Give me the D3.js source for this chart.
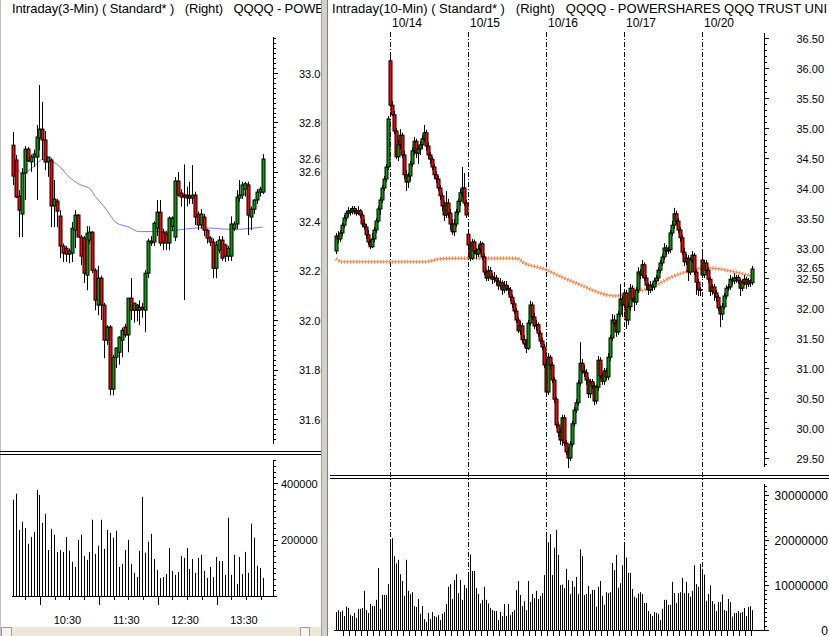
<!DOCTYPE html>
<html><head><meta charset="utf-8">
<script src="https://cdn.jsdelivr.net/npm/d3@7"></script>
<style>
body{margin:0;background:#fff;}
svg{display:block;font-family:"Liberation Sans",Arial,sans-serif;}
text{white-space:pre;}
</style></head><body>
<svg id="c" width="829" height="636"></svg>
<script>
// ---------------- LEFT PANEL DATA (3-min, today) ----------------
const leftOHLC = [
[32.708,32.761,32.547,32.583],[32.648,32.668,32.494,32.498],[32.502,32.526,32.336,32.445],[32.429,32.615,32.336,32.595],
[32.595,32.704,32.486,32.692],[32.692,32.700,32.640,32.644],[32.640,32.670,32.600,32.660],[32.660,32.690,32.620,32.672],
[32.660,32.790,32.486,32.741],[32.737,32.951,32.688,32.773],[32.773,32.883,32.648,32.729],[32.729,32.765,32.607,32.640],
[32.640,32.660,32.580,32.660],[32.648,32.655,32.376,32.462],[32.462,32.567,32.376,32.490],[32.482,32.490,32.376,32.441],
[32.421,32.445,32.251,32.300],[32.300,32.310,32.235,32.271],[32.291,32.300,32.235,32.267],[32.267,32.290,32.230,32.280],
[32.271,32.397,32.235,32.372],[32.364,32.445,32.291,32.425],[32.425,32.430,32.340,32.336],[32.336,32.345,32.223,32.259],
[32.332,32.340,32.150,32.190],[32.182,32.380,32.121,32.352],[32.324,32.380,32.310,32.356],[32.356,32.360,32.190,32.202],
[32.202,32.210,32.040,32.081],[32.061,32.220,32.020,32.170],[32.170,32.180,32.000,32.061],[32.061,32.070,31.846,31.919],
[31.919,31.980,31.900,31.972],[31.972,31.980,31.696,31.721],[31.721,31.860,31.696,31.850],[31.850,31.890,31.806,31.887],
[31.870,31.935,31.820,31.931],[31.919,31.970,31.850,31.959],[31.972,31.985,31.930,31.940],[31.940,32.090,31.870,32.089],
[32.089,32.170,32.000,32.040],[32.040,32.070,31.990,32.069],[32.061,32.065,31.995,32.040],[32.040,32.080,31.980,32.052],
[32.052,32.070,32.010,32.044],[32.040,32.202,31.951,32.190],[32.190,32.330,32.170,32.320],[32.320,32.340,32.300,32.312],
[32.316,32.400,32.300,32.392],[32.372,32.486,32.340,32.437],[32.437,32.486,32.300,32.312],[32.356,32.370,32.283,32.312],
[32.352,32.360,32.283,32.312],[32.312,32.420,32.283,32.413],[32.380,32.420,32.360,32.413],[32.336,32.579,32.320,32.563],
[32.563,32.599,32.500,32.506],[32.514,32.530,32.460,32.498],[32.506,32.630,32.081,32.498],[32.506,32.540,32.460,32.494],
[32.494,32.560,32.470,32.502],[32.494,32.627,32.470,32.506],[32.506,32.520,32.385,32.417],[32.429,32.440,32.364,32.385],
[32.385,32.450,32.370,32.429],[32.417,32.430,32.340,32.364],[32.364,32.370,32.310,32.332],[32.332,32.340,32.300,32.316],
[32.316,32.330,32.170,32.210],[32.210,32.320,32.170,32.304],[32.283,32.340,32.270,32.324],[32.324,32.340,32.240,32.251],
[32.304,32.310,32.235,32.259],[32.259,32.300,32.240,32.290],[32.259,32.420,32.240,32.389],[32.370,32.400,32.360,32.389],
[32.389,32.526,32.370,32.498],[32.494,32.567,32.480,32.506],[32.506,32.560,32.490,32.547],[32.530,32.560,32.500,32.552],
[32.547,32.560,32.344,32.425],[32.417,32.460,32.364,32.449],[32.449,32.490,32.430,32.486],[32.486,32.530,32.470,32.518],
[32.518,32.540,32.500,32.530],[32.518,32.672,32.510,32.652]
];
const leftVolumeK = [
341,362,234,263,241,185,209,227,376,358,
259,291,163,238,217,156,163,156,209,160,
121,103,199,217,142,128,156,270,149,178,
270,167,234,224,206,231,103,114,163,199,
114,82,67,160,351,153,192,220,131,92,
64,67,78,170,89,75,85,142,135,170,
96,131,82,135,146,89,64,103,67,138,
124,124,75,277,75,146,43,138,78,156,
82,256,206,107,99,64
];
const leftMAIndex = [0,3,7,10,12,16,19,23,26,28,31,33,35,39,43,52,59,64,75,85];
const leftMAValue = [32.650,32.594,32.620,32.650,32.648,32.620,32.580,32.547,32.533,32.500,32.459,32.425,32.395,32.378,32.358,32.360,32.369,32.374,32.367,32.377];
const leftPriceTicks = [33.00,32.80,32.60,32.40,32.20,32.00,31.80,31.60];
const leftLastPrice = 32.65;
const leftVolTicks = [400000,200000];
const leftTimeLabels = ["10:30","11:30","12:30","13:30"];
const leftTitle = "Intraday(3-Min) ( Standard* )   (Right)   QQQQ - POWE";

// ---------------- RIGHT PANEL DATA (10-min, 5 days) ----------------
const rightOHLC = [
[32.95,33.25,32.90,33.20],[33.20,33.28,33.08,33.15],[33.15,33.30,33.10,33.25],[33.25,33.42,33.20,33.38],[33.38,33.55,33.33,33.50],
[33.50,33.62,33.45,33.58],[33.58,33.68,33.52,33.62],[33.62,33.66,33.54,33.60],[33.60,33.70,33.56,33.66],[33.66,33.70,33.56,33.62],
[33.62,33.66,33.54,33.58],[33.58,33.70,33.55,33.62],[33.62,33.65,33.50,33.55],[33.55,33.60,33.35,33.40],[33.40,33.48,33.30,33.35],
[33.35,33.40,33.15,33.22],[33.22,33.30,33.05,33.10],[33.10,33.14,32.98,33.02],[33.02,33.25,33.00,33.15],[33.15,33.35,33.10,33.30],
[33.30,33.50,33.25,33.45],[33.45,33.70,33.42,33.65],[33.65,33.85,33.55,33.80],[33.80,34.05,33.75,34.00],[34.00,34.20,33.95,34.15],
[34.15,34.40,34.10,34.35],[34.35,35.20,34.30,35.15],
[36.12,36.18,35.35,35.38],[35.38,35.45,35.20,35.22],[35.22,35.28,34.90,34.95],[34.95,35.00,34.48,34.52],[34.52,34.80,34.45,34.72],
[34.72,34.98,34.65,34.88],[34.88,34.92,34.50,34.55],[34.55,34.62,34.15,34.22],[34.22,34.30,33.95,34.10],[34.10,34.25,34.00,34.20],
[34.20,34.45,34.12,34.40],[34.40,34.68,34.35,34.62],[34.62,34.85,34.55,34.78],[34.78,34.82,34.50,34.58],[34.58,34.70,34.40,34.65],
[34.65,34.78,34.55,34.72],[34.72,34.88,34.65,34.82],[34.82,35.05,34.78,34.92],[34.92,34.97,34.62,34.70],[34.70,34.76,34.48,34.55],
[34.55,34.60,34.40,34.48],[34.48,34.52,34.30,34.35],[34.35,34.40,34.15,34.22],[34.22,34.28,34.08,34.15],[34.15,34.20,33.95,34.00],
[34.00,34.05,33.80,33.87],[33.87,33.92,33.62,33.70],[33.70,33.78,33.45,33.55],[33.55,33.95,33.50,33.75],[33.75,33.82,33.50,33.58],
[33.58,33.65,33.30,33.40],[33.40,33.48,33.22,33.27],[33.27,33.48,33.20,33.40],[33.40,33.65,33.35,33.60],[33.60,33.82,33.55,33.78],
[33.78,33.98,33.70,33.92],[33.92,34.35,33.85,34.00],[34.00,34.25,33.70,33.75],[33.75,33.80,33.50,33.55],
[33.23,33.30,32.95,33.05],[33.05,33.10,32.78,32.83],[32.83,33.15,32.80,33.10],[33.10,33.14,32.90,32.95],[32.95,33.00,32.82,32.90],
[32.90,33.05,32.85,32.98],[32.98,33.12,32.92,33.07],[33.07,33.10,32.80,32.85],[32.85,32.90,32.55,32.60],[32.60,32.65,32.45,32.50],
[32.50,32.70,32.45,32.62],[32.62,32.68,32.48,32.52],[32.52,32.58,32.40,32.48],[32.48,32.60,32.42,32.50],[32.50,32.55,32.38,32.45],
[32.45,32.50,32.30,32.37],[32.37,32.50,32.32,32.42],[32.42,32.46,32.22,32.30],[32.30,32.45,32.25,32.38],[32.38,32.45,32.28,32.33],
[32.33,32.38,32.22,32.30],[32.30,32.35,32.12,32.18],[32.18,32.22,32.00,32.07],[32.07,32.12,31.90,31.95],[31.95,32.00,31.75,31.80],
[31.80,31.85,31.58,31.62],[31.62,31.78,31.55,31.70],[31.70,31.75,31.42,31.47],[31.47,31.55,31.35,31.40],[31.40,31.48,31.25,31.33],
[31.33,31.80,31.30,31.75],[31.75,32.12,31.70,32.05],[32.05,32.10,31.80,31.85],[31.85,31.92,31.65,31.70],[31.70,31.80,31.62,31.72],
[31.72,31.76,31.52,31.58],[31.58,31.62,31.40,31.45],[31.45,31.50,31.30,31.35],[31.35,31.40,31.00,31.05],
[31.05,31.15,30.55,30.60],[30.60,31.25,30.55,31.18],[31.18,31.22,30.98,31.05],[31.05,31.10,30.75,30.80],[30.80,30.85,30.42,30.48],
[30.48,30.52,30.00,30.05],[30.05,30.10,29.85,29.93],[29.93,30.00,29.72,29.80],[29.80,30.22,29.70,30.17],[30.17,30.22,29.70,29.75],
[29.75,29.80,29.55,29.60],[29.60,29.68,29.33,29.50],[29.50,29.78,29.45,29.73],[29.73,30.12,29.68,30.07],[30.07,30.35,30.02,30.30],
[30.30,30.48,30.25,30.42],[30.42,30.80,30.38,30.75],[30.75,31.43,30.70,31.08],[31.08,31.15,30.90,30.95],[30.95,31.05,30.85,30.92],
[30.92,30.98,30.72,30.80],[30.80,30.85,30.50,30.57],[30.57,30.82,30.50,30.77],[30.77,30.82,30.65,30.70],[30.70,30.75,30.38,30.45],
[30.45,30.72,30.40,30.68],[30.68,31.20,30.62,31.13],[31.13,31.18,30.82,30.87],[30.87,30.92,30.72,30.78],[30.78,31.00,30.72,30.95],
[30.95,31.00,30.80,30.85],[30.85,31.25,30.80,31.18],[31.18,31.55,31.12,31.50],[31.50,31.90,31.45,31.80],[31.80,31.88,31.70,31.75],
[31.75,31.80,31.52,31.60],[31.60,31.95,31.55,31.90],[31.90,32.40,31.85,32.15],[32.15,32.20,31.85,32.05],
[32.05,32.32,32.00,32.25],[32.25,32.30,31.65,31.80],[31.80,32.08,31.72,32.02],[32.02,32.40,31.95,32.33],[32.33,32.38,32.10,32.15],
[32.15,32.20,31.95,32.10],[32.10,32.35,32.05,32.30],[32.30,32.68,32.25,32.60],[32.60,32.65,32.48,32.55],[32.55,32.80,32.50,32.72],
[32.72,32.76,32.45,32.50],[32.50,32.55,32.30,32.38],[32.38,32.42,32.22,32.30],[32.30,32.45,32.25,32.38],[32.38,32.42,32.28,32.35],
[32.35,32.50,32.30,32.45],[32.45,32.55,32.40,32.50],[32.50,32.68,32.45,32.63],[32.63,32.80,32.58,32.75],[32.75,32.90,32.70,32.85],
[32.85,33.08,32.80,33.00],[33.00,33.05,32.88,32.95],[32.95,33.02,32.90,32.97],[32.97,33.30,32.92,33.25],[33.25,33.45,33.20,33.38],
[33.38,33.67,33.32,33.57],[33.57,33.62,33.40,33.45],[33.45,33.50,33.25,33.30],[33.30,33.35,33.10,33.17],[33.17,33.22,32.88,32.93],
[32.93,33.00,32.70,32.77],[32.77,32.90,32.72,32.83],[32.83,32.88,32.45,32.60],[32.60,32.85,32.55,32.80],[32.80,32.95,32.75,32.88],
[32.88,32.92,32.55,32.60],[32.60,32.65,32.22,32.43],[32.43,32.48,32.20,32.30],[32.30,32.35,32.20,32.31],
[32.80,32.97,32.50,32.55],[32.55,32.80,32.50,32.75],[32.75,32.80,32.58,32.63],[32.63,32.68,32.42,32.48],[32.48,32.52,32.20,32.28],
[32.28,32.40,32.22,32.35],[32.35,32.40,32.12,32.25],[32.25,32.30,32.10,32.18],[32.18,32.22,31.95,32.00],[32.00,32.05,31.68,31.90],
[31.90,32.08,31.80,32.02],[32.02,32.25,31.98,32.20],[32.20,32.38,32.15,32.33],[32.33,32.40,32.28,32.35],[32.35,32.55,32.30,32.48],
[32.48,32.52,32.38,32.45],[32.45,32.58,32.40,32.50],[32.50,32.55,32.42,32.51],[32.51,32.55,32.40,32.45],[32.45,32.48,32.20,32.33],
[32.33,32.48,32.28,32.42],[32.42,32.55,32.38,32.48],[32.48,32.52,32.32,32.40],[32.40,32.50,32.35,32.45],[32.45,32.48,32.35,32.42],
[32.42,32.70,32.38,32.65]
];
const rightVolumeM = [
4.0,4.4,4.0,4.3,3.1,5.2,4.9,3.3,3.1,3.8,2.7,4.7,4.7,4.9,8.7,4.4,3.8,5.8,5.3,5.3,6.7,13.8,4.7,7.8,7.8,7.8,10.2,
20.0,20.4,16.4,14.8,15.6,12.4,10.9,7.6,15.6,8.7,8.0,8.4,5.3,5.1,6.9,3.6,5.3,2.4,1.8,3.8,2.4,4.0,3.1,2.9,3.3,2.2,3.6,4.0,5.8,9.6,10.2,6.9,11.1,12.4,8.2,11.1,6.7,10.0,9.3,
11.9,16.8,13.1,13.1,9.3,8.0,5.9,6.7,9.6,6.7,5.9,4.9,4.4,4.2,4.2,2.2,4.0,3.1,5.8,3.1,5.8,3.3,4.0,4.4,8.9,10.9,7.8,5.3,6.4,4.4,10.9,6.2,8.0,7.1,8.7,6.9,7.6,8.2,12.2,
20.6,19.5,21.3,12.2,18.3,22.2,16.7,10.0,10.1,9.3,13.6,11.1,8.0,10.9,9.6,11.8,8.0,17.9,16.4,7.8,8.0,9.8,8.0,8.9,8.9,5.2,9.6,10.9,7.6,5.6,8.4,8.2,8.4,14.9,13.3,16.7,9.4,10.4,14.4,
19.0,16.1,12.7,12.7,9.1,7.4,7.1,8.1,8.4,8.0,6.0,6.0,4.2,3.6,3.1,4.0,3.8,3.6,2.2,4.7,6.7,6.7,5.6,5.6,10.7,8.2,6.0,8.2,8.4,11.6,8.2,10.7,8.2,7.4,8.7,14.4,10.2,9.6,14.7,
13.6,12.3,6.5,8.0,9.9,6.4,5.8,4.2,6.2,6.2,7.9,4.4,4.2,6.9,6.2,3.0,3.8,3.8,4.2,3.8,4.0,4.9,3.1,5.1,5.3,4.4
];
const rightMAIndex = [0,3,45,52,62,90,94,104,114,124,132,140,148,158,168,178,185,192,202,208];
const rightMAValue = [32.82,32.77,32.77,32.82,32.83,32.83,32.75,32.65,32.50,32.36,32.25,32.20,32.25,32.35,32.52,32.63,32.67,32.65,32.58,32.53];
const rightPriceTicks = [36.5,36.0,35.5,35.0,34.5,34.0,33.5,33.0,32.5,32.0,31.5,31.0,30.5,30.0,29.5];
const rightLastPrice = 32.65;
const rightVolTicks = [30000000,20000000,10000000,0];
const dayLabels = ["10/14","10/15","10/16","10/17","10/20"];
const dayStartIndex = [27,66,105,144,183];
const rightTitle = "Intraday(10-Min) ( Standard* )   (Right)   QQQQ - POWERSHARES QQQ TRUST UNI";

// ---------------- DRAW ----------------
const svg = d3.select('#c');
const GREEN = '#00a000', RED = '#ff0000';
const FONT = 12;

const defs = svg.append('defs');
defs.append('clipPath').attr('id','clipL').append('rect').attr('x',0).attr('y',0).attr('width',321).attr('height',636);
defs.append('clipPath').attr('id','clipR').append('rect').attr('x',330).attr('y',0).attr('width',499).attr('height',636);

// window chrome
svg.append('rect').attr('x',0).attr('y',0).attr('width',829).attr('height',636).attr('fill','#fff');
svg.append('rect').attr('x',321).attr('y',0).attr('width',7).attr('height',636).attr('fill','#d4d0c8');
svg.append('line').attr('x1',321.5).attr('x2',321.5).attr('y1',0).attr('y2',636).attr('stroke','#a0a0a0');
svg.append('line').attr('x1',327.5).attr('x2',327.5).attr('y1',0).attr('y2',636).attr('stroke','#808080');
svg.append('line').attr('x1',0.5).attr('x2',0.5).attr('y1',0).attr('y2',636).attr('stroke','#c0c0c0');
// left bottom scrollbar
svg.append('rect').attr('x',1).attr('y',627).attr('width',320).attr('height',9).attr('fill','#ece9d8');
svg.append('rect').attr('x',1.5).attr('y',627.5).attr('width',10).attr('height',9).attr('fill','#f4f3ee').attr('stroke','#9d9d9d');
svg.append('rect').attr('x',300.5).attr('y',627.5).attr('width',9).attr('height',9).attr('fill','#f4f3ee').attr('stroke','#9d9d9d');

// ===== LEFT PANEL =====
const L = svg.append('g').attr('clip-path','url(#clipL)');
const xL = d3.scaleLinear().domain([0,85]).range([13,263]);
const yL = d3.scaleLinear().domain([31.6,33.0]).range([419,73]);
const yLV = d3.scaleLinear().domain([0,400000]).range([596,483]);

L.append('text').attr('x',12).attr('y',13).attr('font-size',13).attr('fill','#000')
 .attr('textLength',312).attr('lengthAdjust','spacing').text(leftTitle);

// price axis
const lAxis = L.append('g');
lAxis.append('line').attr('x1',273.5).attr('x2',273.5).attr('y1',37).attr('y2',444).attr('stroke','#000');
const lMinor = d3.range(0,82).map(k=>31.52+k*0.02).filter(v=>yL(v)>=37&&yL(v)<=444);
lAxis.selectAll('.lmin').data(lMinor).join('line').attr('x1',273).attr('x2',276)
 .attr('y1',d=>Math.round(yL(d))+0.5).attr('y2',d=>Math.round(yL(d))+0.5).attr('stroke','#000');
lAxis.selectAll('.lmaj').data(leftPriceTicks).join('line').attr('x1',273).attr('x2',278)
 .attr('y1',d=>Math.round(yL(d))+0.5).attr('y2',d=>Math.round(yL(d))+0.5).attr('stroke','#000');
lAxis.selectAll('.llab').data(leftPriceTicks).join('text').attr('x',299).attr('y',d=>yL(d)+4.5)
 .attr('font-size',FONT-1).text(d=>d.toFixed(2));
lAxis.append('rect').attr('x',298).attr('y',yL(leftLastPrice)-6).attr('width',30).attr('height',10).attr('fill','#fff');
lAxis.append('text').attr('x',299).attr('y',yL(leftLastPrice)+3).attr('font-size',FONT-1).text(leftLastPrice.toFixed(2));

// MA
const maLine = d3.line().x(d=>xL(d[0])).y(d=>yL(d[1])).curve(d3.curveMonotoneX);
L.append('path').attr('d',maLine(leftMAIndex.map((v,i)=>[v,leftMAValue[i]]))).attr('fill','none').attr('stroke','#7878ff').attr('stroke-width',1);

// candles
const lc = L.append('g').selectAll('g').data(leftOHLC).join('g');
lc.append('line').attr('x1',(d,i)=>Math.round(xL(i))+0.5).attr('x2',(d,i)=>Math.round(xL(i))+0.5)
 .attr('y1',d=>yL(d[1])).attr('y2',d=>yL(d[2])).attr('stroke','#000');
lc.append('rect').attr('x',(d,i)=>Math.round(xL(i))-1).attr('y',d=>yL(Math.max(d[0],d[3])))
 .attr('width',3).attr('height',d=>Math.max(1,yL(Math.min(d[0],d[3]))-yL(Math.max(d[0],d[3]))))
 .attr('fill',d=>d[3]>=d[0]?GREEN:RED).attr('stroke','#000').attr('stroke-width',1);

// separator
L.append('line').attr('x1',0).attr('x2',321).attr('y1',451.5).attr('y2',451.5).attr('stroke','#000');
L.append('line').attr('x1',0).attr('x2',321).attr('y1',454.5).attr('y2',454.5).attr('stroke','#000');

// volume
L.selectAll('.lv').data(leftVolumeK).join('line')
 .attr('x1',(d,i)=>Math.round(xL(i))+0.5).attr('x2',(d,i)=>Math.round(xL(i))+0.5)
 .attr('y1',596).attr('y2',d=>yLV(d*1000)).attr('stroke','#000');
L.append('line').attr('x1',12).attr('x2',277).attr('y1',596.5).attr('y2',596.5).attr('stroke','#000');
L.append('line').attr('x1',273.5).attr('x2',273.5).attr('y1',460).attr('y2',596).attr('stroke','#000');
const lvMinor = d3.range(0,25).map(k=>k*20000).filter(v=>yLV(v)>=460);
L.selectAll('.lvm').data(lvMinor).join('line').attr('x1',273).attr('x2',276)
 .attr('y1',d=>Math.round(yLV(d))+0.5).attr('y2',d=>Math.round(yLV(d))+0.5).attr('stroke','#000');
L.selectAll('.lvM').data(leftVolTicks).join('line').attr('x1',273).attr('x2',278)
 .attr('y1',d=>Math.round(yLV(d))+0.5).attr('y2',d=>Math.round(yLV(d))+0.5).attr('stroke','#000');
L.selectAll('.lvl').data(leftVolTicks).join('text').attr('x',281).attr('y',d=>yLV(d)+4.5)
 .attr('font-size',FONT-1).text(d=>d);

// time ticks
const tIdx = d3.range(0,17).map(k=>4.2+5*k).filter(v=>xL(v)<=265);
L.selectAll('.tt').data(tIdx).join('line')
 .attr('x1',d=>Math.round(xL(d))+0.5).attr('x2',d=>Math.round(xL(d))+0.5)
 .attr('y1',596).attr('y2',(d,k)=>k%4===1?605:600).attr('stroke','#000');
L.selectAll('.tl').data(leftTimeLabels).join('text')
 .attr('x',(d,k)=>xL(19.2+20*k)-2).attr('y',624).attr('text-anchor','middle').attr('font-size',FONT-1).text(d=>d);

// ===== RIGHT PANEL =====
const R = svg.append('g').attr('clip-path','url(#clipR)');
const xR = d3.scaleLinear().domain([0,208]).range([336,752]);
const yR = d3.scaleLinear().domain([29.5,36.5]).range([458,38]);
const yRV = d3.scaleLinear().domain([0,30000000]).range([630,495]);

R.append('text').attr('x',332).attr('y',13).attr('font-size',13).attr('fill','#000')
 .attr('textLength',495).attr('lengthAdjust','spacing').text(rightTitle);

// day separators
R.selectAll('.sep').data(dayStartIndex).join('line')
 .attr('x1',d=>Math.round(xR(d))+0.5).attr('x2',d=>Math.round(xR(d))+0.5)
 .attr('y1',32).attr('y2',630).attr('stroke','#000').attr('stroke-dasharray','5,2,1,2');
R.selectAll('.dl').data(dayLabels).join('text')
 .attr('x',(d,k)=>xR(dayStartIndex[k])+2).attr('y',27).attr('font-size',FONT).text(d=>d);

// price axis
R.append('line').attr('x1',764.5).attr('x2',764.5).attr('y1',33).attr('y2',467).attr('stroke','#000');
const rMinor = d3.range(0,75).map(k=>29.4+k*0.1).filter(v=>yR(v)>=33&&yR(v)<=467);
R.selectAll('.rmin').data(rMinor).join('line').attr('x1',764).attr('x2',767)
 .attr('y1',d=>Math.round(yR(d))+0.5).attr('y2',d=>Math.round(yR(d))+0.5).attr('stroke','#000');
R.selectAll('.rmaj').data(rightPriceTicks).join('line').attr('x1',764).attr('x2',769)
 .attr('y1',d=>Math.round(yR(d))+0.5).attr('y2',d=>Math.round(yR(d))+0.5).attr('stroke','#000');
R.selectAll('.rlab').data(rightPriceTicks).join('text').attr('x',824).attr('y',d=>yR(d)+4.5)
 .attr('text-anchor','end').attr('font-size',FONT-1).text(d=>d.toFixed(2));
R.append('rect').attr('x',790).attr('y',yR(rightLastPrice)-6).attr('width',36).attr('height',9).attr('fill','#fff');
R.append('text').attr('x',824).attr('y',yR(rightLastPrice)+3).attr('text-anchor','end').attr('font-size',FONT-1).text(rightLastPrice.toFixed(2));

// MA (orange, plus-marked)
const maR = d3.line().x(d=>xR(d[0])).y(d=>yR(d[1])).curve(d3.curveMonotoneX);
const maRd = maR(rightMAIndex.map((v,i)=>[v,rightMAValue[i]]));
R.append('path').attr('d',maRd).attr('fill','none').attr('stroke','#ff8040').attr('stroke-width',1);
R.append('path').attr('d',maRd).attr('fill','none').attr('stroke','#ff8040').attr('stroke-width',4).attr('stroke-dasharray','1,2');

// candles
const rc = R.append('g').selectAll('g').data(rightOHLC).join('g');
rc.append('line').attr('x1',(d,i)=>Math.round(xR(i))+0.5).attr('x2',(d,i)=>Math.round(xR(i))+0.5)
 .attr('y1',d=>yR(d[1])).attr('y2',d=>yR(d[2])).attr('stroke','#000');
rc.append('rect').attr('x',(d,i)=>Math.round(xR(i))-1).attr('y',d=>yR(Math.max(d[0],d[3])))
 .attr('width',3).attr('height',d=>Math.max(1,yR(Math.min(d[0],d[3]))-yR(Math.max(d[0],d[3]))))
 .attr('fill',d=>d[3]>=d[0]?GREEN:RED).attr('stroke','#000').attr('stroke-width',1);

// separator lines
R.append('line').attr('x1',330).attr('x2',829).attr('y1',475.5).attr('y2',475.5).attr('stroke','#000');
R.append('line').attr('x1',330).attr('x2',829).attr('y1',478.5).attr('y2',478.5).attr('stroke','#000');

// volume
R.selectAll('.rv').data(rightVolumeM).join('line')
 .attr('x1',(d,i)=>Math.round(xR(i))+0.5).attr('x2',(d,i)=>Math.round(xR(i))+0.5)
 .attr('y1',630).attr('y2',d=>yRV(d*1e6)).attr('stroke','#000');
R.append('line').attr('x1',334).attr('x2',765).attr('y1',630.5).attr('y2',630.5).attr('stroke','#000');
R.append('line').attr('x1',764.5).attr('x2',764.5).attr('y1',484).attr('y2',631).attr('stroke','#000');
const rvMinor = d3.range(0,33).map(k=>k*1e6).filter(v=>yRV(v)>=484);
R.selectAll('.rvm').data(rvMinor).join('line').attr('x1',764).attr('x2',767)
 .attr('y1',d=>Math.round(yRV(d))+0.5).attr('y2',d=>Math.round(yRV(d))+0.5).attr('stroke','#000');
R.selectAll('.rvM').data(rightVolTicks).join('line').attr('x1',764).attr('x2',769)
 .attr('y1',d=>Math.round(yRV(d))+0.5).attr('y2',d=>Math.round(yRV(d))+0.5).attr('stroke','#000');
R.selectAll('.rvl').data(rightVolTicks).join('text').attr('x',828).attr('y',d=>yRV(d)+4.5)
 .attr('text-anchor','end').attr('font-size',FONT).text(d=>d);
// x ticks
const rt = d3.range(0,70).map(k=>3.5+3*k).filter(v=>v<=209);
R.selectAll('.rxt').data(rt).join('line')
 .attr('x1',d=>Math.round(xR(d))+0.5).attr('x2',d=>Math.round(xR(d))+0.5)
 .attr('y1',630).attr('y2',636).attr('stroke','#000');
</script>
</body></html>
